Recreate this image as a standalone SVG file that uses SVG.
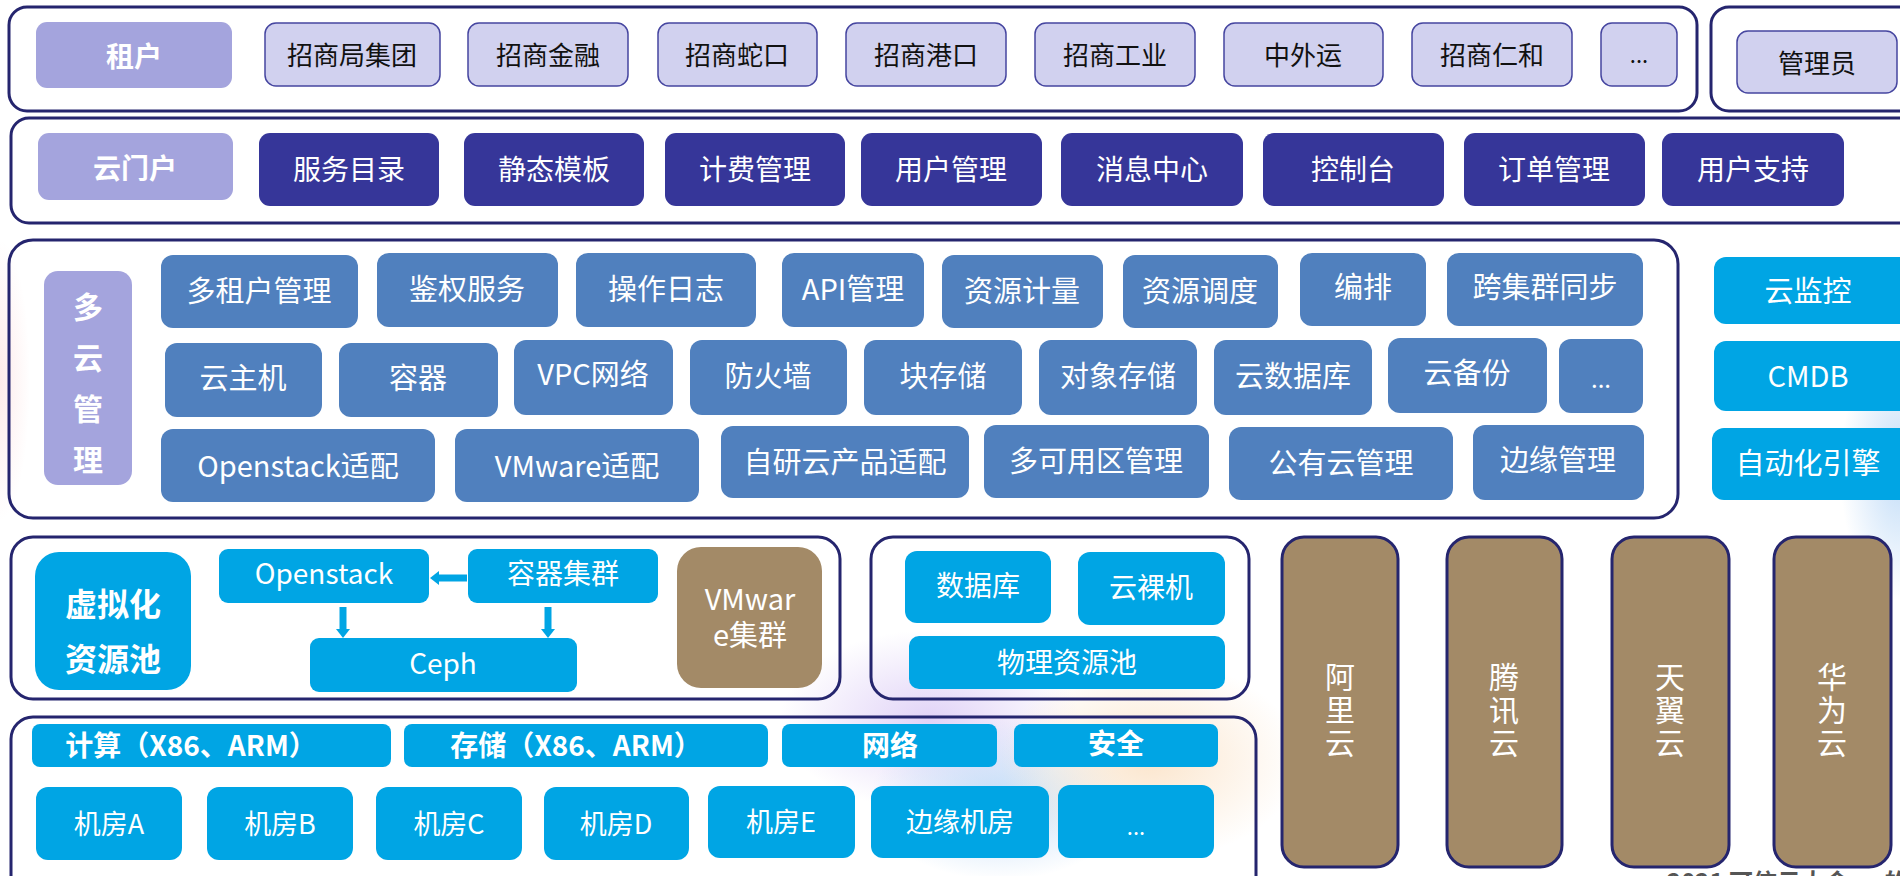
<svg xmlns="http://www.w3.org/2000/svg" width="1900" height="876" viewBox="0 0 1900 876">
<defs>
<style>
.t{font-family:"Noto Sans CJK SC","Noto Sans",sans-serif;text-anchor:middle;dominant-baseline:central}
.v{font-family:"Noto Sans CJK SC","Noto Sans",sans-serif;text-anchor:middle;writing-mode:vertical-rl;text-orientation:upright}
.panel{fill:none;stroke:#25256e;stroke-width:3}
.lab{fill:#a4a4dd}
.ten{fill:#d1d1ef;stroke:#4646a0;stroke-width:1.5}
.por{fill:#363699}
.mc{fill:#5080be}
.cy{fill:#00a5e4}
.tan{fill:#a38a67}
.col{fill:#a38a67;stroke:#25256e;stroke-width:3}
.w{fill:#ffffff}
.k{fill:#111111}
.b{font-weight:bold}
.arr{stroke:#00a5e4;stroke-width:7;fill:none}
</style>
<marker id="ah" markerUnits="userSpaceOnUse" markerWidth="10" markerHeight="16" refX="0" refY="7" orient="auto">
<path d="M0,0 L9,7 L0,14 z" fill="#00a5e4"/>
</marker>
<radialGradient id="g1" cx="0.5" cy="0.5" r="0.5"><stop offset="0" stop-color="#d9c8f5" stop-opacity="0.8"/><stop offset="1" stop-color="#d9c8f5" stop-opacity="0"/></radialGradient>
<radialGradient id="g2" cx="0.5" cy="0.5" r="0.5"><stop offset="0" stop-color="#bcd9f7" stop-opacity="0.9"/><stop offset="1" stop-color="#bcd9f7" stop-opacity="0"/></radialGradient>
<radialGradient id="g3" cx="0.5" cy="0.5" r="0.5"><stop offset="0" stop-color="#fbe3c8" stop-opacity="0.9"/><stop offset="1" stop-color="#fbe3c8" stop-opacity="0"/></radialGradient>
<radialGradient id="g4" cx="0.5" cy="0.5" r="0.5"><stop offset="0" stop-color="#fde6e6" stop-opacity="0.8"/><stop offset="1" stop-color="#fde6e6" stop-opacity="0"/></radialGradient>
</defs>
<rect width="1900" height="876" fill="#ffffff"/>
<g id="background">
<ellipse cx="930" cy="720" rx="150" ry="90" fill="url(#g1)"/>
<ellipse cx="1000" cy="800" rx="130" ry="80" fill="url(#g2)"/>
<ellipse cx="1150" cy="760" rx="150" ry="100" fill="url(#g3)"/>
<ellipse cx="1900" cy="470" rx="60" ry="130" fill="url(#g2)"/>
<ellipse cx="0" cy="380" rx="30" ry="140" fill="url(#g4)"/>
</g>

<g id="panels">
<rect class="panel" x="9" y="7" width="1688" height="104" rx="18"/>
<rect class="panel" x="1711" y="7" width="230" height="104" rx="18"/>
<rect class="panel" x="11" y="118" width="1930" height="105" rx="18"/>
<rect class="panel" x="9" y="240" width="1669" height="278" rx="24"/>
<rect class="panel" x="11" y="537" width="829" height="162" rx="22"/>
<rect class="panel" x="871" y="537" width="378" height="162" rx="22"/>
<rect class="panel" x="11" y="717" width="1245" height="190" rx="22"/>
</g>

<g id="tenant">
<rect class="lab" x="36" y="22" width="196" height="66" rx="11"/>
<text class="t w b" x="134" y="55" font-size="28">租户</text>
</g>
<g id="t1"><rect class="ten" x="265" y="23" width="175" height="63" rx="11"/><text class="t k" x="352" y="53" font-size="26">招商局集团</text></g>
<g id="t2"><rect class="ten" x="468" y="23" width="160" height="63" rx="11"/><text class="t k" x="548" y="53" font-size="26">招商金融</text></g>
<g id="t3"><rect class="ten" x="658" y="23" width="159" height="63" rx="11"/><text class="t k" x="737" y="53" font-size="26">招商蛇口</text></g>
<g id="t4"><rect class="ten" x="846" y="23" width="160" height="63" rx="11"/><text class="t k" x="926" y="53" font-size="26">招商港口</text></g>
<g id="t5"><rect class="ten" x="1035" y="23" width="160" height="63" rx="11"/><text class="t k" x="1115" y="53" font-size="26">招商工业</text></g>
<g id="t6"><rect class="ten" x="1224" y="23" width="159" height="63" rx="11"/><text class="t k" x="1303" y="53" font-size="26">中外运</text></g>
<g id="t7"><rect class="ten" x="1412" y="23" width="160" height="63" rx="11"/><text class="t k" x="1492" y="53" font-size="26">招商仁和</text></g>
<g id="t8"><rect class="ten" x="1601" y="23" width="76" height="63" rx="11"/><text class="t k" x="1639" y="53" font-size="22">...</text></g>
<g id="admin"><rect class="ten" x="1737" y="31" width="160" height="62" rx="11"/><text class="t k" x="1817" y="61" font-size="26">管理员</text></g>

<g id="portal">
<rect class="lab" x="38" y="133" width="195" height="67" rx="11"/>
<text class="t w b" x="135" y="167" font-size="28">云门户</text>
</g>
<g id="p1"><rect class="por" x="259" y="133" width="180" height="73" rx="11"/><text class="t w" x="349" y="168" font-size="28">服务目录</text></g>
<g id="p2"><rect class="por" x="464" y="133" width="180" height="73" rx="11"/><text class="t w" x="554" y="168" font-size="28">静态模板</text></g>
<g id="p3"><rect class="por" x="665" y="133" width="180" height="73" rx="11"/><text class="t w" x="755" y="168" font-size="28">计费管理</text></g>
<g id="p4"><rect class="por" x="861" y="133" width="181" height="73" rx="11"/><text class="t w" x="951" y="168" font-size="28">用户管理</text></g>
<g id="p5"><rect class="por" x="1061" y="133" width="182" height="73" rx="11"/><text class="t w" x="1152" y="168" font-size="28">消息中心</text></g>
<g id="p6"><rect class="por" x="1263" y="133" width="181" height="73" rx="11"/><text class="t w" x="1353" y="168" font-size="28">控制台</text></g>
<g id="p7"><rect class="por" x="1464" y="133" width="181" height="73" rx="11"/><text class="t w" x="1554" y="168" font-size="28">订单管理</text></g>
<g id="p8"><rect class="por" x="1662" y="133" width="182" height="73" rx="11"/><text class="t w" x="1753" y="168" font-size="28">用户支持</text></g>

<g id="multicloud">
<rect class="lab" x="44" y="271" width="88" height="214" rx="14"/>
<text class="v w b" x="88" y="394" font-size="30" letter-spacing="21">多云管理</text>
</g>
<g id="m1"><rect class="mc" x="161" y="255" width="197" height="73" rx="12"/><text class="t w" x="259" y="289" font-size="29">多租户管理</text></g>
<g id="m2"><rect class="mc" x="377" y="253" width="181" height="74" rx="12"/><text class="t w" x="467" y="287" font-size="29">鉴权服务</text></g>
<g id="m3"><rect class="mc" x="576" y="253" width="180" height="74" rx="12"/><text class="t w" x="666" y="287" font-size="29">操作日志</text></g>
<g id="m4"><rect class="mc" x="782" y="253" width="142" height="74" rx="12"/><text class="t w" x="853" y="287" font-size="29">API管理</text></g>
<g id="m5"><rect class="mc" x="942" y="255" width="161" height="73" rx="12"/><text class="t w" x="1022" y="289" font-size="29">资源计量</text></g>
<g id="m6"><rect class="mc" x="1123" y="255" width="155" height="73" rx="12"/><text class="t w" x="1200" y="289" font-size="29">资源调度</text></g>
<g id="m7"><rect class="mc" x="1300" y="253" width="126" height="73" rx="12"/><text class="t w" x="1363" y="285" font-size="29">编排</text></g>
<g id="m8"><rect class="mc" x="1447" y="253" width="196" height="73" rx="12"/><text class="t w" x="1545" y="285" font-size="29">跨集群同步</text></g>

<g id="m9"><rect class="mc" x="165" y="343" width="157" height="74" rx="12"/><text class="t w" x="243" y="376" font-size="29">云主机</text></g>
<g id="m10"><rect class="mc" x="339" y="343" width="159" height="74" rx="12"/><text class="t w" x="418" y="376" font-size="29">容器</text></g>
<g id="m11"><rect class="mc" x="514" y="340" width="159" height="75" rx="12"/><text class="t w" x="593" y="372" font-size="29">VPC网络</text></g>
<g id="m12"><rect class="mc" x="690" y="340" width="157" height="75" rx="12"/><text class="t w" x="768" y="374" font-size="29">防火墙</text></g>
<g id="m13"><rect class="mc" x="864" y="340" width="158" height="75" rx="12"/><text class="t w" x="943" y="374" font-size="29">块存储</text></g>
<g id="m14"><rect class="mc" x="1039" y="340" width="158" height="75" rx="12"/><text class="t w" x="1118" y="374" font-size="29">对象存储</text></g>
<g id="m15"><rect class="mc" x="1214" y="340" width="158" height="75" rx="12"/><text class="t w" x="1293" y="374" font-size="29">云数据库</text></g>
<g id="m16"><rect class="mc" x="1388" y="338" width="159" height="75" rx="12"/><text class="t w" x="1467" y="371" font-size="29">云备份</text></g>
<g id="m17"><rect class="mc" x="1559" y="339" width="84" height="74" rx="12"/><text class="t w" x="1601" y="377" font-size="24">...</text></g>

<g id="m18"><rect class="mc" x="161" y="429" width="274" height="73" rx="12"/><text class="t w" x="298" y="464" font-size="29">Openstack适配</text></g>
<g id="m19"><rect class="mc" x="455" y="429" width="244" height="73" rx="12"/><text class="t w" x="577" y="464" font-size="29">VMware适配</text></g>
<g id="m20"><rect class="mc" x="721" y="426" width="248" height="72" rx="12"/><text class="t w" x="845" y="460" font-size="29">自研云产品适配</text></g>
<g id="m21"><rect class="mc" x="984" y="425" width="225" height="73" rx="12"/><text class="t w" x="1096" y="459" font-size="29">多可用区管理</text></g>
<g id="m22"><rect class="mc" x="1229" y="427" width="224" height="73" rx="12"/><text class="t w" x="1341" y="461" font-size="29">公有云管理</text></g>
<g id="m23"><rect class="mc" x="1473" y="425" width="171" height="75" rx="12"/><text class="t w" x="1558" y="458" font-size="29">边缘管理</text></g>

<g id="c1"><rect class="cy" x="1714" y="257" width="200" height="67" rx="12"/><text class="t w" x="1808" y="289" font-size="29">云监控</text></g>
<g id="c2"><rect class="cy" x="1714" y="341" width="200" height="70" rx="12"/><text class="t w" x="1808" y="374" font-size="29">CMDB</text></g>
<g id="c3"><rect class="cy" x="1712" y="428" width="200" height="72" rx="12"/><text class="t w" x="1808" y="461" font-size="29">自动化引擎</text></g>

<g id="virt">
<rect class="cy" x="35" y="552" width="156" height="138" rx="24"/>
<text class="t w b" x="113" y="602" font-size="32">虚拟化</text>
<text class="t w b" x="113" y="657" font-size="32">资源池</text>
</g>
<g id="openstack"><rect class="cy" x="219" y="549" width="210" height="54" rx="9"/><text class="t w" x="324" y="572" font-size="28">Openstack</text></g>
<g id="container"><rect class="cy" x="468" y="549" width="190" height="54" rx="9"/><text class="t w" x="563" y="572" font-size="28">容器集群</text></g>
<g id="ceph"><rect class="cy" x="310" y="638" width="267" height="54" rx="9"/><text class="t w" x="443" y="662" font-size="28">Ceph</text></g>
<g id="vmware">
<rect class="tan" x="677" y="547" width="145" height="141" rx="24"/>
<text class="t w" font-size="29"><tspan x="750" y="597">VMwar</tspan><tspan x="750" y="633">e集群</tspan></text>
</g>

<g id="connectors">
<line class="arr" x1="467" y1="578" x2="439" y2="578" marker-end="url(#ah)"/>
<line class="arr" x1="343" y1="607" x2="343" y2="629" marker-end="url(#ah)"/>
<line class="arr" x1="548" y1="607" x2="548" y2="629" marker-end="url(#ah)"/>
</g>

<g id="db"><rect class="cy" x="905" y="551" width="146" height="72" rx="12"/><text class="t w" x="978" y="584" font-size="28">数据库</text></g>
<g id="baremetal"><rect class="cy" x="1078" y="552" width="147" height="73" rx="12"/><text class="t w" x="1151" y="586" font-size="28">云裸机</text></g>
<g id="phys"><rect class="cy" x="909" y="636" width="316" height="53" rx="10"/><text class="t w" x="1067" y="661" font-size="28">物理资源池</text></g>

<g id="compute"><rect class="cy" x="32" y="724" width="359" height="43" rx="8"/><text class="t w b" x="191" y="744" font-size="28">计算（X86、ARM）</text></g>
<g id="storage"><rect class="cy" x="404" y="724" width="364" height="43" rx="8"/><text class="t w b" x="576" y="744" font-size="28">存储（X86、ARM）</text></g>
<g id="network"><rect class="cy" x="782" y="724" width="215" height="43" rx="8"/><text class="t w b" x="890" y="744" font-size="28">网络</text></g>
<g id="security"><rect class="cy" x="1014" y="724" width="204" height="43" rx="8"/><text class="t w b" x="1116" y="742" font-size="28">安全</text></g>

<g id="r1"><rect class="cy" x="36" y="787" width="146" height="73" rx="12"/><text class="t w" x="109" y="822" font-size="27">机房A</text></g>
<g id="r2"><rect class="cy" x="207" y="787" width="146" height="73" rx="12"/><text class="t w" x="280" y="822" font-size="27">机房B</text></g>
<g id="r3"><rect class="cy" x="376" y="787" width="146" height="73" rx="12"/><text class="t w" x="449" y="822" font-size="27">机房C</text></g>
<g id="r4"><rect class="cy" x="544" y="787" width="145" height="73" rx="12"/><text class="t w" x="616" y="822" font-size="27">机房D</text></g>
<g id="r5"><rect class="cy" x="708" y="786" width="147" height="72" rx="12"/><text class="t w" x="781" y="820" font-size="27">机房E</text></g>
<g id="r6"><rect class="cy" x="871" y="786" width="178" height="72" rx="12"/><text class="t w" x="960" y="820" font-size="27">边缘机房</text></g>
<g id="r7"><rect class="cy" x="1058" y="785" width="156" height="73" rx="12"/><text class="t w" x="1136" y="825" font-size="22">...</text></g>

<g id="aliyun"><rect class="col" x="1282" y="537" width="116" height="330" rx="22"/>
<text class="v w" x="1340" y="711" font-size="30" letter-spacing="3">阿里云</text></g>
<g id="tencent"><rect class="col" x="1447" y="537" width="115" height="330" rx="22"/>
<text class="v w" x="1504" y="711" font-size="30" letter-spacing="3">腾讯云</text></g>
<g id="tianyi"><rect class="col" x="1612" y="537" width="117" height="330" rx="22"/>
<text class="v w" x="1670" y="711" font-size="30" letter-spacing="3">天翼云</text></g>
<g id="huawei"><rect class="col" x="1774" y="537" width="117" height="330" rx="22"/>
<text class="v w" x="1832" y="711" font-size="30" letter-spacing="3">华为云</text></g>

<text x="1667" y="891" font-family="Noto Sans CJK SC, sans-serif" font-size="24" font-weight="bold" fill="#555555">2021 可信云大会  · 的</text>
</svg>
